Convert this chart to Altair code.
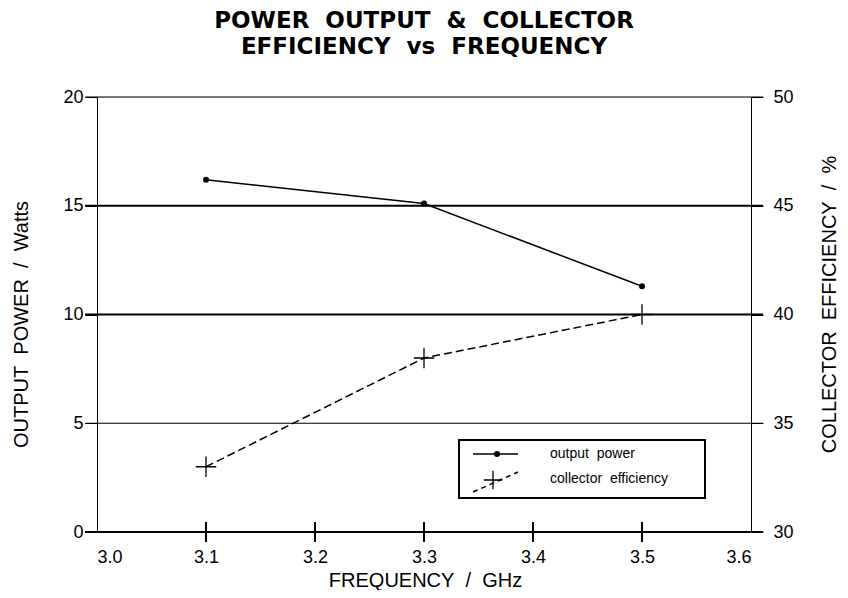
import altair as alt
import pandas as pd

freq = [3.1, 3.3, 3.5]
power = [16.2, 15.1, 11.3]
efficiency = [33.0, 38.0, 40.0]
x_ticks = [3.0, 3.1, 3.2, 3.3, 3.4, 3.5, 3.6]
inner_ticks = [3.1, 3.2, 3.3, 3.4, 3.5]
power_ticks = [0, 5, 10, 15, 20]
eff_ticks = [30, 35, 40, 45, 50]
thick_grid = [0, 10, 15]
thin_grid = [5, 20]
legend_power = "output  power"
legend_eff = "collector  efficiency"

NB = "\u00a0"
title_lines = ["POWER  OUTPUT  &  COLLECTOR".replace(" ", NB),
               "EFFICIENCY  vs  FREQUENCY".replace(" ", NB)]
x_title = "FREQUENCY  /  GHz".replace(" ", NB)
p_title = "OUTPUT  POWER  /  Watts".replace(" ", NB)
e_title = "COLLECTOR  EFFICIENCY  /  %".replace(" ", NB)

W, H = 654, 435
FONT = "Liberation Sans"

df = pd.DataFrame({"freq": freq, "power": power, "eff": efficiency})

xs = alt.Scale(domain=[3.0, 3.6], nice=False, zero=False)
ys_p = alt.Scale(domain=[0, 20], nice=False)
ys_e = alt.Scale(domain=[30, 50], nice=False, zero=False)

common = dict(labelFont=FONT, labelFontSize=18, labelColor="black",
              titleFont=FONT, titleFontSize=20, titleFontWeight="normal",
              titleColor="black", grid=False)

x_axis = alt.Axis(values=x_ticks, format=".1f", title=x_title, ticks=False,
                  domain=False, labelPadding=16, labelBaseline="top",
                  titleX=328, titleY=48, titleBaseline="middle", **common)
p_axis = alt.Axis(values=power_ticks, title=p_title, tickSize=12, tickColor="black",
                  tickWidth=1, domain=True, domainColor="black", domainWidth=1,
                  labelPadding=2, titleX=-76, titleY=227, titleAngle=270,
                  titleBaseline="middle", titleAlign="center", **common)
e_axis = alt.Axis(values=eff_ticks, title=e_title, orient="right", tickSize=12,
                  tickColor="black", tickWidth=1, domain=True, domainColor="black",
                  domainWidth=1, labelPadding=10, titleX=78, titleY=207,
                  titleAngle=270, titleBaseline="middle", titleAlign="center", **common)

X = alt.X("freq:Q", scale=xs, axis=x_axis)

grid_thick = alt.Chart(pd.DataFrame({"v": thick_grid})).mark_rule(
    color="black", strokeWidth=2).encode(
    y=alt.Y("v:Q", scale=ys_p, axis=p_axis), x=alt.value(-12), x2=alt.value(W + 12))
grid_thin = alt.Chart(pd.DataFrame({"v": thin_grid})).mark_rule(
    color="black", strokeWidth=1).encode(
    y=alt.Y("v:Q", scale=ys_p, axis=p_axis), x=alt.value(-12), x2=alt.value(W + 12))
x_tick_marks = alt.Chart(pd.DataFrame({"freq": inner_ticks})).mark_rule(
    color="black", strokeWidth=2).encode(
    x=X, y=alt.value(H - 10), y2=alt.value(H + 10))

p_line = alt.Chart(df).mark_line(color="black", strokeWidth=1.5).encode(
    x=X, y=alt.Y("power:Q", scale=ys_p, axis=p_axis))
p_pts = alt.Chart(df).mark_point(filled=True, color="black", size=36, opacity=1).encode(
    x=X, y=alt.Y("power:Q", scale=ys_p, axis=p_axis))

power_layer = alt.layer(grid_thin, grid_thick, x_tick_marks, p_line, p_pts)

cross = "M-1,0L1,0M0,-1L0,1"
e_line = alt.Chart(df).mark_line(color="black", strokeWidth=1.5, strokeDash=[8, 4]).encode(
    x=X, y=alt.Y("eff:Q", scale=ys_e, axis=e_axis))
e_pts = alt.Chart(df).mark_point(shape=cross, filled=False, color="black", size=420,
                                 strokeWidth=1.3, opacity=1).encode(
    x=X, y=alt.Y("eff:Q", scale=ys_e, axis=e_axis))
eff_layer = alt.layer(e_line, e_pts)

one = pd.DataFrame({"a": [0]})
leg_box = alt.Chart(one).mark_rect(fill="white", stroke="black", strokeWidth=2).encode(
    x=alt.value(362), x2=alt.value(608), y=alt.value(343), y2=alt.value(401))
leg_l1 = alt.Chart(one).mark_rule(color="black", strokeWidth=1.5).encode(
    x=alt.value(376), x2=alt.value(421), y=alt.value(357), y2=alt.value(357))
leg_d1 = alt.Chart(one).mark_point(filled=True, color="black", size=36, opacity=1).encode(
    x=alt.value(400), y=alt.value(357))
leg_l2 = alt.Chart(one).mark_rule(color="black", strokeWidth=1.5, strokeDash=[5, 4]).encode(
    x=alt.value(376), x2=alt.value(421), y=alt.value(395), y2=alt.value(375))
leg_c2 = alt.Chart(one).mark_point(shape=cross, filled=False, color="black", size=340,
                                   strokeWidth=1.3, opacity=1).encode(
    x=alt.value(396), y=alt.value(383))
leg_t1 = alt.Chart(pd.DataFrame({"label": [legend_power.replace(" ", NB)]})).mark_text(
    align="left", baseline="middle", font=FONT, fontSize=14, color="black").encode(
    x=alt.value(453), y=alt.value(357), text="label:N")
leg_t2 = alt.Chart(pd.DataFrame({"label": [legend_eff.replace(" ", NB)]})).mark_text(
    align="left", baseline="middle", font=FONT, fontSize=14, color="black").encode(
    x=alt.value(453), y=alt.value(382), text="label:N")
legend_layer = alt.layer(leg_box, leg_l1, leg_d1, leg_l2, leg_c2, leg_t1, leg_t2)

chart = alt.layer(power_layer, eff_layer, legend_layer).resolve_scale(
    y="independent").properties(
    width=W, height=H,
    title=alt.TitleParams(title_lines, font="DejaVu Sans", fontWeight="bold", fontSize=23,
                          lineHeight=26.5, color="black", offset=29, anchor="middle"),
    autosize=alt.AutoSizeParams(type="none"),
    padding={"left": 89, "top": 89, "right": 89, "bottom": 58},
).configure_view(stroke=None).configure(background="white")

chart.save("out.html", embed_options={"renderer": "svg", "actions": False})
